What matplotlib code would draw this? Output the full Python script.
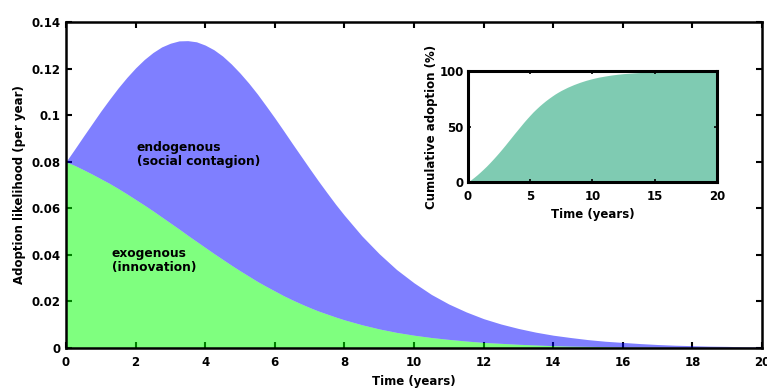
import numpy as np
import matplotlib
matplotlib.use("Agg")
import matplotlib.pyplot as plt

plt.rcParams["font.family"] = ["DejaVu Sans"]
plt.rcParams["font.weight"] = "bold"

# time axis (years): quarter-year steps up to 8, half-year steps after
years = np.r_[np.arange(0, 8, 0.25), np.arange(8, 20.5, 0.5)]

# exogenous (innovation) adoption likelihood per year
exogenous = [
    0.0800, 0.0784, 0.0766, 0.0747, 0.0727, 0.0707, 0.0685, 0.0662,
    0.0638, 0.0614, 0.0589, 0.0563, 0.0537, 0.0511, 0.0484, 0.0458,
    0.0432, 0.0406, 0.0381, 0.0356, 0.0332, 0.0309, 0.0286, 0.0265,
    0.0245, 0.0225, 0.0207, 0.0190, 0.0174, 0.0159, 0.0146, 0.0133,
    0.0121, 0.0100, 0.0082, 0.0067, 0.0055, 0.0045, 0.0037, 0.0030,
    0.0024, 0.0020, 0.0016, 0.0013, 0.0010, 0.0008, 0.0007, 0.0006,
    0.0004, 0.0004, 0.0003, 0.0002, 0.0002, 0.0002, 0.0001, 0.0001,
    0.0001,
]

# total (exogenous + endogenous) adoption likelihood per year
total = [
    0.0800, 0.0854, 0.0909, 0.0963, 0.1017, 0.1068, 0.1117, 0.1162,
    0.1203, 0.1239, 0.1269, 0.1293, 0.1309, 0.1319, 0.1320, 0.1315,
    0.1301, 0.1281, 0.1254, 0.1220, 0.1181, 0.1138, 0.1091, 0.1040,
    0.0988, 0.0934, 0.0879, 0.0825, 0.0771, 0.0718, 0.0667, 0.0617,
    0.0570, 0.0482, 0.0405, 0.0337, 0.0280, 0.0230, 0.0189, 0.0155,
    0.0126, 0.0103, 0.0084, 0.0068, 0.0055, 0.0045, 0.0036, 0.0029,
    0.0024, 0.0019, 0.0015, 0.0012, 0.0010, 0.0008, 0.0007, 0.0005,
    0.0004,
]

# cumulative adoption (%) for the inset
cumulative = [
    0, 2.1, 4.3, 6.6, 9.1, 11.7, 14.4, 17.3,
    20.3, 23.4, 26.6, 29.9, 33.3, 36.8, 40.3, 43.8,
    47.2, 50.6, 54.0, 57.2, 60.3, 63.3, 66.0, 68.6,
    71.0, 73.3, 75.4, 77.4, 79.3, 81.0, 82.6, 84.0,
    85.4, 87.8, 89.9, 91.7, 93.2, 94.5, 95.5, 96.4,
    97.1, 97.7, 98.1, 98.5, 98.8, 99.1, 99.3, 99.4,
    99.5, 99.6, 99.7, 99.7, 99.8, 99.8, 99.9, 99.9,
    99.9,
]

x_ticks = [0, 2, 4, 6, 8, 10, 12, 14, 16, 18, 20]
y_ticks = [0, 0.02, 0.04, 0.06, 0.08, 0.1, 0.12, 0.14]
y_tick_labels = ["0", "0.02", "0.04", "0.06", "0.08", "0.1", "0.12", "0.14"]

fig = plt.figure(figsize=(7.67, 3.89), dpi=100)
ax = fig.add_axes([0.086, 0.1054, 0.9075, 0.838])

ax.set_axisbelow(True)
ax.fill_between(years, 0, exogenous, color=(0, 1, 0), alpha=0.5, linewidth=0)
ax.fill_between(years, exogenous, total, color=(0, 0, 1), alpha=0.5, linewidth=0)

ax.set_xlim(0, 20)
ax.set_ylim(0, 0.14)
ax.set_xticks(x_ticks)
ax.set_yticks(y_ticks)
ax.set_yticklabels(y_tick_labels)
ax.tick_params(direction="in", top=True, right=True, length=4, width=1.5,
               labelsize=8.5, pad=4)
ax.tick_params(axis="x", pad=6)
for s in ax.spines.values():
    s.set_linewidth(1.8)
ax.set_xlabel("Time (years)", fontsize=8.5, fontweight="bold", labelpad=4)
ax.set_ylabel("Adoption likelihood (per year)", fontsize=8.5, fontweight="bold",
              labelpad=4)

ax.text(2.04, 0.083, "endogenous\n(social contagion)", fontsize=8.8,
        fontweight="bold", va="center", ha="left", linespacing=1.15)
ax.text(1.32, 0.0376, "exogenous\n(innovation)", fontsize=8.8,
        fontweight="bold", va="center", ha="left", linespacing=1.15)

# inset: cumulative adoption
ins = fig.add_axes([0.610, 0.532, 0.3246, 0.2853])
ins.fill_between(years, 0, cumulative, color=(0, 0.6, 0.4), alpha=0.5, linewidth=0)
ins.set_xlim(0, 20)
ins.set_ylim(0, 100)
ins.set_xticks([0, 5, 10, 15, 20])
ins.set_yticks([0, 50, 100])
ins.tick_params(direction="in", top=True, right=True, length=2, width=1.2,
                labelsize=8.5, pad=3)
ins.tick_params(axis="x", pad=6)
for s in ins.spines.values():
    s.set_linewidth(2.2)
ins.set_xlabel("Time (years)", fontsize=8.5, fontweight="bold", labelpad=3)
ins.set_ylabel("Cumulative adoption (%)", fontsize=8.5, fontweight="bold",
               labelpad=1)

fig.savefig("out.png", dpi=100)
